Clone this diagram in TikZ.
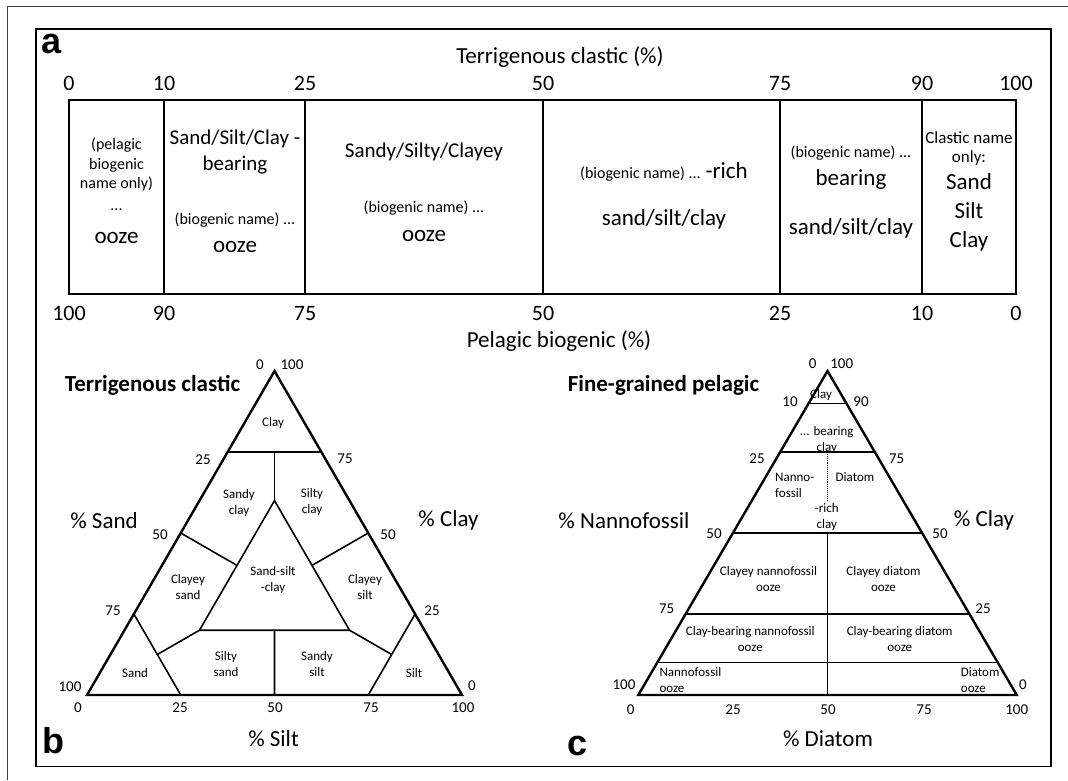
\documentclass[tikz,border=0pt]{standalone}
\usepackage{fontspec}
\setmainfont{Carlito}
\newfontfamily\panelfont{Liberation Sans}
\usetikzlibrary{calc}

\begin{document}
\begin{tikzpicture}[x=1pt,y=-1pt,
  frame/.style={line width=1.8pt},
  outline/.style={line width=2.4pt,line join=miter},
  part/.style={line width=1.6pt},
  num/.style={inner sep=0pt,anchor=base,font=\fontsize{22}{26}\selectfont},
  tick/.style={inner sep=0pt,anchor=base,font=\fontsize{15}{18}\selectfont},
  axis/.style={inner sep=0pt,font=\fontsize{23}{27}\selectfont},
  zone/.style={inner sep=0pt,align=center,font=\fontsize{13}{16}\selectfont},
  small/.style={inner sep=0pt,align=center,font=\fontsize{16}{19.7}\selectfont},
  mid/.style={inner sep=0pt,align=center,font=\fontsize{21}{26}\selectfont},
  large/.style={inner sep=0pt,align=center,font=\fontsize{23}{28}\selectfont},
  heading/.style={inner sep=0pt,font=\bfseries\fontsize{23}{27}\selectfont},
  panel/.style={inner sep=0pt,font=\panelfont\bfseries\fontsize{36}{40}\selectfont}
]
\useasboundingbox (0,0) rectangle (1068,780);
\draw[black!75,line width=0.8pt] (7,780) -- (7,6) -- (1068,6);
\draw[frame] (36,28.6) rectangle (1050.7,766.5);

% a
\node[panel] (pa) at (52,44) {a};
\node[axis] (terr) at (560,57) {Terrigenous clastic (\%)};
\node[axis] (pelag) at (559,341) {Pelagic biogenic (\%)};
\foreach \x/\p/\q in {69/0/100,164/10/90,305/25/75,543/50/50,780/75/25,922/90/10,1016/100/0}{
  \node[num] (top\p) at (\x,90.5) {\p};
  \node[num] (bot\p) at (\x,320) {\q};
}
\foreach \x in {164,305,543,780,922}
  \draw[part] (\x,100) -- (\x,294);
\draw[outline] (69,100) rectangle (1016,294);

\node[small] (only) at (116.5,164.5) {(pelagic\\biogenic\\name only)};
\node[small] (dots) at (116.5,210) {...};
\node[large] (ooze1) at (116.5,237.6) {ooze};

\node[mid,text depth=0pt] (bearing1) at (235,150.6) {Sand/Silt/Clay -\\bearing};
\node[small] (bio2) at (235,220) {(biogenic name) ...};
\node[large] (ooze2) at (235,247) {ooze};

\node[mid] (sandy) at (424,151.5) {Sandy/Silty/Clayey};
\node[small] (bio3) at (424,208) {(biogenic name) ...};
\node[large] (ooze3) at (424,236) {ooze};

\node[small,anchor=base] (rich) at (664,178.5) {(biogenic name) ... \fontsize{23}{28}\selectfont -rich};
\node[large] (ssc4) at (664,219.6) {sand/silt/clay};

\node[small] (bio5) at (851,152.7) {(biogenic name) ...};
\node[large] (bearing5) at (851,179) {bearing};
\node[large] (ssc5) at (851,228) {sand/silt/clay};

\node[inner sep=0pt,align=center,font=\fontsize{17}{19.5}\selectfont] (clastic) at (969,148.7) {Clastic name\\only:};
\node[large,font=\fontsize{23}{29}\selectfont] (names) at (969,212) {Sand\\Silt\\Clay};

% b
\node[panel] (pb) at (53,741) {b};
\node[heading] (tct) at (152.5,385) {Terrigenous clastic};
\coordinate (bS) at (87,695);
\coordinate (bL) at (462,695);
\coordinate (bC) at (274.5,371);
\draw[part] (barycentric cs:bS=.25,bC=.75) -- (barycentric cs:bL=.25,bC=.75);
\draw[part] (barycentric cs:bS=.125,bL=.125,bC=.75) -- (barycentric cs:bS=.2,bL=.2,bC=.6);
\draw[part] (barycentric cs:bS=.2,bL=.2,bC=.6) -- (barycentric cs:bS=.6,bL=.2,bC=.2)
  -- (barycentric cs:bS=.2,bL=.6,bC=.2) -- cycle;
\draw[part] (barycentric cs:bS=.5,bC=.5) -- (barycentric cs:bS=.4,bL=.2,bC=.4);
\draw[part] (barycentric cs:bL=.5,bC=.5) -- (barycentric cs:bS=.2,bL=.4,bC=.4);
\draw[part] (barycentric cs:bS=.4,bL=.4,bC=.2) -- (barycentric cs:bS=.5,bL=.5);
\draw[part] (barycentric cs:bS=.75,bC=.25) -- (barycentric cs:bS=.75,bL=.25);
\draw[part] (barycentric cs:bS=.6,bL=.2,bC=.2) -- (barycentric cs:bS=.75,bL=.125,bC=.125);
\draw[part] (barycentric cs:bL=.75,bC=.25) -- (barycentric cs:bS=.25,bL=.75);
\draw[part] (barycentric cs:bS=.2,bL=.6,bC=.2) -- (barycentric cs:bS=.125,bL=.75,bC=.125);
\draw[outline] (bS) -- (bL) -- (bC) -- cycle;

\node[zone] (bclay) at (273,423) {Clay};
\node[zone] (bsandyclay) at (239,503) {Sandy\\clay};
\node[zone] (bsiltyclay) at (312,502) {Silty\\clay};
\node[zone] (bclayeysand) at (188,587) {Clayey\\sand};
\node[zone] (bmix) at (273,580) {Sand-silt\\-clay};
\node[zone] (bclayeysilt) at (365,587) {Clayey\\silt};
\node[zone] (bsand) at (135,673) {Sand};
\node[zone] (bsiltysand) at (226,664) {Silty\\sand};
\node[zone] (bsandysilt) at (317,664) {Sandy\\silt};
\node[zone] (bsilt) at (414,673) {Silt};

\node[tick] (bt0) at (260,369.7) {0};
\node[tick] (bt100) at (292,369.7) {100};
\foreach \t/\x/\y in {25/203/464.7,50/160/539.7,75/113/615.7,100/70/691.7}
  \node[tick] (bl\t) at (\x,\y) {\t};
\foreach \t/\x/\y in {75/345/463.7,50/388/539.7,25/432/615.7,0/472/690.7}
  \node[tick] (br\t) at (\x,\y) {\t};
\foreach \t/\x in {0/78,25/180,50/275,75/371,100/463}
  \node[tick] (bb\t) at (\x,712.7) {\t};
\node[axis] (psand) at (104,521) {\% Sand};
\node[axis] (pclayb) at (448.5,520) {\% Clay};
\node[axis] (psilt) at (273.5,739) {\% Silt};

% c
\node[panel] (pc) at (578,746) {c};
\node[heading] (fgp) at (663.5,385) {Fine-grained pelagic};
\coordinate (cN) at (638.3,695);
\coordinate (cD) at (1016.7,695);
\coordinate (cC) at (827.5,371);
\foreach \c in {.9,.75,.5,.25,.1}
  \draw[part] (barycentric cs:cN={1-\c},cC=\c) -- (barycentric cs:cD={1-\c},cC=\c);
\draw[part] (barycentric cs:cN=.25,cD=.25,cC=.5) -- (barycentric cs:cN=.5,cD=.5);
\draw[densely dotted,line width=0.9pt] (barycentric cs:cN=.125,cD=.125,cC=.75) -- (barycentric cs:cN=.2,cD=.2,cC=.6);
\draw[outline] (cN) -- (cD) -- (cC) -- cycle;

\node[zone] (cclay) at (821,395) {Clay};
\node[zone] (cbear) at (826.7,439.7) {... bearing\\clay};
\node[zone,align=left,anchor=west] (cnanno) at (775,485) {Nanno-\\fossil};
\node[zone] (cdiat) at (855,477.3) {Diatom};
\node[zone] (crich) at (826.7,516.7) {-rich\\clay};
\node[zone] (ccn) at (768.5,578.7) {Clayey nannofossil\\ooze};
\node[zone] (ccd) at (883.5,578.7) {Clayey diatom\\ooze};
\node[zone] (cbn) at (750.3,638.7) {Clay-bearing nannofossil\\ooze};
\node[zone] (cbd) at (899.7,638.7) {Clay-bearing diatom\\ooze};
\node[zone,align=left,anchor=west] (cno) at (659.3,680.5) {Nannofossil\\ooze};
\node[zone,align=left,anchor=west] (cdo) at (960.7,680.5) {Diatom\\ooze};

\node[tick] (ct0) at (812.7,368.7) {0};
\node[tick] (ct100) at (841.7,368.7) {100};
\foreach \t/\x/\y in {10/790/406.4,25/757/463.7,50/714/538.7,75/666.7/613.7,100/624/689.7}
  \node[tick] (cl\t) at (\x,\y) {\t};
\foreach \t/\x/\y in {90/861/406.4,75/896.7/463.7,50/940/538.7,25/983/613.7,0/1023/689.7}
  \node[tick] (cr\t) at (\x,\y) {\t};
\foreach \t/\x in {0/630.7,25/733,50/828,75/924,100/1016.7}
  \node[tick] (cb\t) at (\x,714.7) {\t};
\node[axis] (pnanno) at (624,520.7) {\% Nannofossil};
\node[axis] (pclayc) at (984,520.7) {\% Clay};
\node[axis] (pdiat) at (828,739) {\% Diatom};
\end{tikzpicture}
\end{document}
